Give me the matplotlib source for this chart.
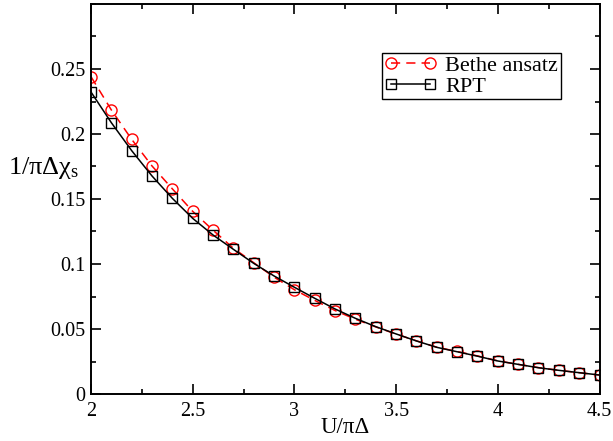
import matplotlib
matplotlib.use("Agg")
import matplotlib.pyplot as plt
from matplotlib.ticker import MultipleLocator

plt.rcParams['font.family'] = ['Liberation Serif', 'DejaVu Serif']
plt.rcParams['mathtext.fontset'] = 'custom'
plt.rcParams['mathtext.rm'] = 'Liberation Serif'
plt.rcParams['mathtext.it'] = 'Liberation Serif:italic'

x_vals = [2.0, 2.1, 2.2, 2.3, 2.4, 2.5, 2.6, 2.7, 2.8, 2.9, 3.0, 3.1, 3.2,
          3.3, 3.4, 3.5, 3.6, 3.7, 3.8, 3.9, 4.0, 4.1, 4.2, 4.3, 4.4, 4.5]
bethe = [0.2441, 0.2185, 0.1959, 0.1754, 0.1578, 0.1405, 0.1260, 0.1121,
         0.1010, 0.0899, 0.0802, 0.0720, 0.0642, 0.0575, 0.0516, 0.0461,
         0.0409, 0.0360, 0.0327, 0.0293, 0.0255, 0.0228, 0.0203, 0.0182,
         0.0164, 0.0146]
rpt = [0.2323, 0.2087, 0.1872, 0.1677, 0.1505, 0.1351, 0.1223, 0.1113,
       0.1005, 0.0908, 0.0821, 0.0736, 0.0654, 0.0582, 0.0518, 0.0462,
       0.0408, 0.0359, 0.0325, 0.0291, 0.0254, 0.0228, 0.0202, 0.0182,
       0.0164, 0.0146]

fig = plt.figure(figsize=(6.13, 4.41), dpi=100)
ax = fig.add_axes([91/613, 47/441, 508.5/613, 390/441])

ax.plot(x_vals, bethe, color='red', ls=(0, (6, 4)), lw=1.1, marker='o',
        ms=8, mfc='none', mec='red', mew=1.0, label='Bethe ansatz')
ax.plot(x_vals, rpt, color='black', ls='-', lw=1.1, marker='s',
        ms=6.5, mfc='none', mec='black', mew=1.0, label='RPT')

ax.set_xlim(2, 4.5)
ax.set_ylim(0, 0.3)
ax.xaxis.set_minor_locator(MultipleLocator(0.25))
ax.yaxis.set_minor_locator(MultipleLocator(0.025))
ax.set_xticks([2, 2.5, 3, 3.5, 4, 4.5])
ax.set_xticklabels(['2', '2.5', '3', '3.5', '4', '4.5'])
ax.set_yticks([0, 0.05, 0.1, 0.15, 0.2, 0.25])
ax.set_yticklabels(['0', '0.05', '0.1', '0.15', '0.2', '0.25'])

ax.tick_params(which='both', direction='in', top=True, right=True,
               labelsize=14.5, width=1.2)
ax.tick_params(which='major', length=7)
ax.tick_params(axis='x', which='major', pad=6)
ax.tick_params(axis='y', which='major', pad=4)
ax.tick_params(which='minor', length=3.5)
for s in ax.spines.values():
    s.set_linewidth(1.4)

ax.set_xlabel('U/πΔ', fontsize=16.5, labelpad=-3)
ax.set_ylabel('1/πΔχ$_\\mathrm{s}$', fontsize=19, rotation=0, va='center',
              ha='center')
ax.yaxis.set_label_coords(-0.093, 0.58)

leg = ax.legend(loc='upper right', bbox_to_anchor=(0.924, 0.875),
                fontsize=16, numpoints=2, handlelength=2.35,
                handletextpad=0.4, borderpad=0.12, labelspacing=0.0,
                fancybox=False, framealpha=1, edgecolor='black',
                borderaxespad=0)
leg.get_frame().set_linewidth(1.0)

fig.savefig('out.png', dpi=100)
